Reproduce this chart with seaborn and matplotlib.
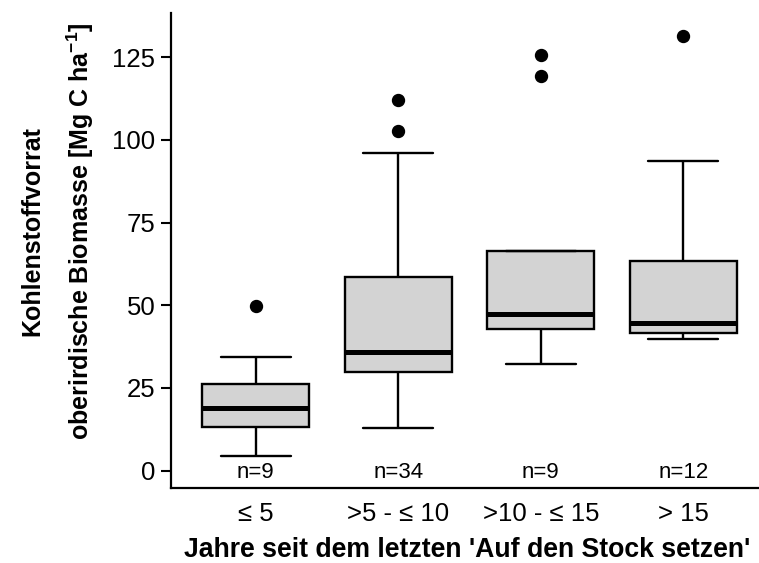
import matplotlib
matplotlib.use("Agg")
import matplotlib.pyplot as plt
import seaborn as sns
import pandas as pd

# Age classes (years since last coppicing) and sample sizes
categories = ["\u2264 5", ">5 - \u2264 10", ">10 - \u2264 15", "> 15"]
n_labels = ["n=9", "n=34", "n=9", "n=12"]

# Above-ground biomass carbon stock per plot [Mg C ha-1]
stock_le5 = [4.5, 9.0, 13.2, 16.0, 18.8, 22.0, 26.3, 34.4, 49.8]
stock_5_10 = [12.9, 17.5, 20.8, 23.1, 25.0, 26.4, 27.9, 28.9, 29.5, 30.7,
              31.6, 32.4, 33.2, 33.9, 34.6, 35.2, 35.5, 36.1, 38.4, 41.0,
              44.3, 47.5, 50.2, 53.8, 57.1, 59.1, 62.5, 66.8, 71.3, 77.9,
              85.4, 96.0, 102.8, 112.1]
stock_10_15 = [32.1, 40.0, 42.7, 45.0, 47.4, 55.0, 66.4, 119.2, 125.8]
stock_gt15 = [39.7, 40.5, 41.2, 41.6, 43.0, 44.0, 45.4, 52.0, 60.0, 73.2,
              93.5, 131.5]

y_ticks = [0, 25, 50, 75, 100, 125]

groups = [stock_le5, stock_5_10, stock_10_15, stock_gt15]
df = pd.DataFrame({
    "klasse": [c for c, g in zip(categories, groups) for _ in g],
    "vorrat": [v for g in groups for v in g],
})

sns.set_theme(style="ticks")
plt.rcParams["font.family"] = ["Liberation Sans", "DejaVu Sans"]
plt.rcParams["mathtext.fontset"] = "custom"
plt.rcParams["mathtext.rm"] = "Liberation Sans"
plt.rcParams["mathtext.bf"] = "Liberation Sans:bold"
plt.rcParams["text.color"] = "black"
plt.rcParams["axes.labelcolor"] = "black"
plt.rcParams["xtick.color"] = "black"
plt.rcParams["ytick.color"] = "black"

W, H = 759, 563
fig = plt.figure(figsize=(W / 100, H / 100), dpi=100)
ax = fig.add_axes([170.7 / W, 1 - 487.7 / H, 1 - 170.7 / W, (487.7 - 13) / H])

sns.boxplot(
    data=df, x="klasse", y="vorrat", order=categories, ax=ax,
    color="#D3D3D3", width=0.75, linecolor="black", linewidth=1.7,
    whis=1.5, capwidths=0.49,
    flierprops=dict(marker="o", markerfacecolor="black", markeredgecolor="black",
                    markersize=8.6),
    medianprops=dict(color="black", linewidth=3.6),
    boxprops=dict(facecolor="#D3D3D3", edgecolor="black", linewidth=1.7),
    whiskerprops=dict(color="black", linewidth=1.7),
    capprops=dict(color="black", linewidth=1.7),
)

for i, lab in enumerate(n_labels):
    ax.text(i, -0.7, lab, ha="center", va="center", fontsize=16, color="black")

ax.set_xlim(-0.596, 3.53)
ax.set_ylim(-5.2, 138.4)
ax.set_yticks(y_ticks)
ax.set_yticklabels([str(t) for t in y_ticks])
ax.tick_params(axis="y", length=7, width=1.5, colors="black", labelsize=18.5, pad=4)
ax.tick_params(axis="x", length=0, labelsize=18.5, pad=10, colors="black")
for s in ["top", "right"]:
    ax.spines[s].set_visible(False)
for s in ["left", "bottom"]:
    ax.spines[s].set_linewidth(1.6)
    ax.spines[s].set_color("black")

ax.set_xlabel("")
ax.set_ylabel("")
fig.text(467 / W, 1 - 550 / H, "Jahre seit dem letzten 'Auf den Stock setzen'",
         ha="center", va="center", fontsize=19.2, fontweight="bold", color="black")
fig.text(32 / W, 1 - 231 / H, "Kohlenstoffvorrat", rotation=90,
         ha="center", va="center", fontsize=18, fontweight="bold", color="black")
fig.text(80 / W, 1 - 231 / H,
         "oberirdische Biomasse [Mg C ha$^{\\mathregular{-1}}$]", rotation=90,
         ha="center", va="center", fontsize=18, fontweight="bold", color="black")

fig.savefig("out.png", dpi=100)
